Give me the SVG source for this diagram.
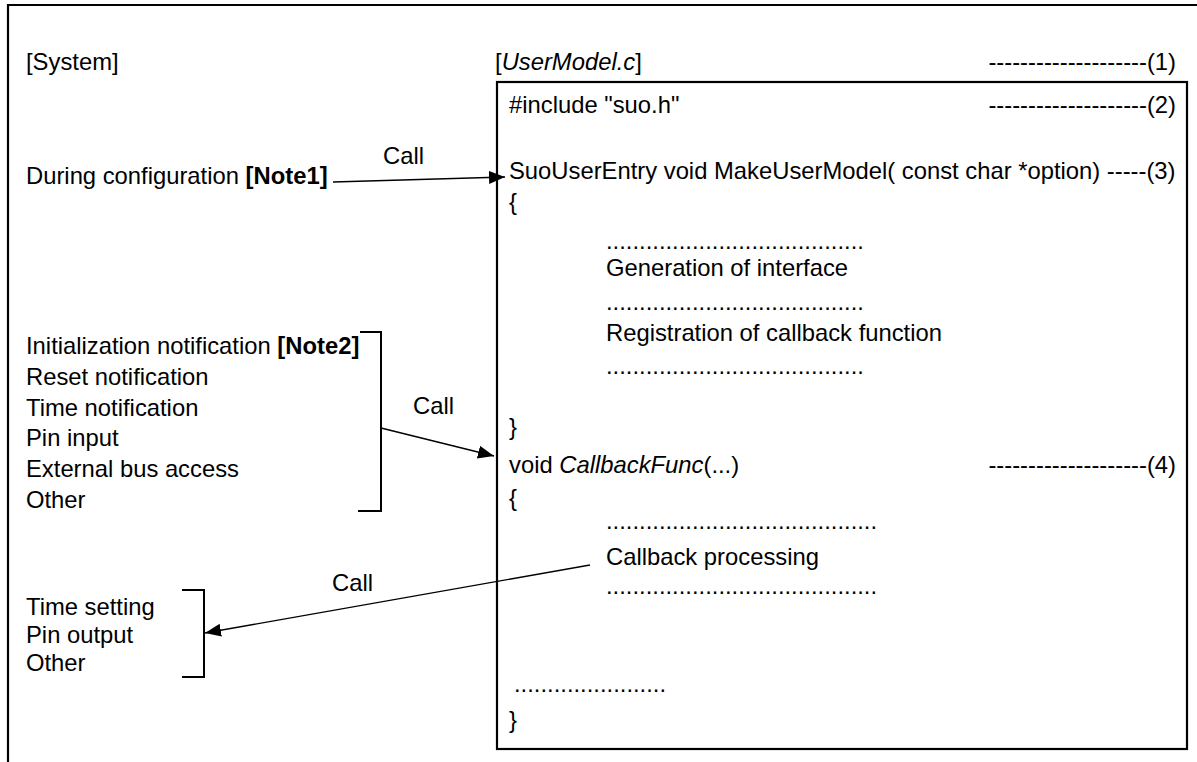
<svg xmlns="http://www.w3.org/2000/svg" width="1197" height="762" viewBox="0 0 1197 762">
<style>
text{font-family:"Liberation Sans",Arial,sans-serif;font-size:23.8px;fill:#000}
.it{font-style:italic}
.b{font-weight:bold}
.frame{fill:none;stroke:#000;stroke-width:2.2}
.br{fill:none;stroke:#000;stroke-width:2}
.conn{fill:none;stroke:#000;stroke-width:1.4}
</style>
<defs>
<marker id="ah" markerUnits="userSpaceOnUse" markerWidth="16" markerHeight="13" refX="16" refY="6.5" orient="auto">
<path d="M0,0 L16,6.5 L0,13 z" fill="#000"/>
</marker>
</defs>
<rect width="1197" height="762" fill="#fff"/>
<g id="outer-frame">
<path class="frame" d="M8,762 V5 H1197"/>
</g>
<g id="system">
<text x="26" y="70">[System]</text>
</g>
<g id="config-node">
<text x="26" y="184">During configuration <tspan class="b">[Note1]</tspan></text>
</g>
<g id="notify-node">
<text x="26" y="354">Initialization notification <tspan class="b">[Note2]</tspan></text>
<text x="26" y="385">Reset notification</text>
<text x="26" y="416">Time notification</text>
<text x="26" y="446">Pin input</text>
<text x="26" y="477">External bus access</text>
<text x="26" y="508">Other</text>
<path class="br" d="M360,332 H381 V511 H358"/>
</g>
<g id="output-node">
<text x="26" y="615">Time setting</text>
<text x="26" y="643">Pin output</text>
<text x="26" y="671">Other</text>
<path class="br" d="M182,590 H204 V677 H182"/>
</g>
<g id="usermodel">
<text x="495" y="70">[<tspan class="it">UserModel.c</tspan>]</text>
<text x="1176" y="70" text-anchor="end">--------------------(1)</text>
<rect class="frame" x="497" y="82" width="690" height="667"/>
<text x="509" y="113">#include "suo.h"</text>
<text x="1176" y="113" text-anchor="end">--------------------(2)</text>
<text x="509" y="179">SuoUserEntry void MakeUserModel( const char *option) -----(3)</text>
<text x="509" y="210">{</text>
<text x="606" y="249">.......................................</text>
<text x="606" y="276">Generation of interface</text>
<text x="606" y="310">.......................................</text>
<text x="606" y="341">Registration of callback function</text>
<text x="606" y="374">.......................................</text>
<text x="509" y="435">}</text>
<text x="509" y="473">void <tspan class="it">CallbackFunc</tspan>(...)</text>
<text x="1176" y="473" text-anchor="end">--------------------(4)</text>
<text x="509" y="506">{</text>
<text x="606" y="529">.........................................</text>
<text x="606" y="565">Callback processing</text>
<text x="606" y="594">.........................................</text>
<text x="514" y="692">.......................</text>
<text x="509" y="728">}</text>
</g>
<g id="connectors">
<line class="conn" x1="333" y1="182" x2="505" y2="177" marker-end="url(#ah)"/>
<text x="383" y="164">Call</text>
<line class="conn" x1="381" y1="428" x2="494" y2="456" marker-end="url(#ah)"/>
<text x="413" y="414">Call</text>
<line class="conn" x1="590" y1="565" x2="205" y2="633" marker-end="url(#ah)"/>
<text x="332" y="591">Call</text>
</g>
</svg>
